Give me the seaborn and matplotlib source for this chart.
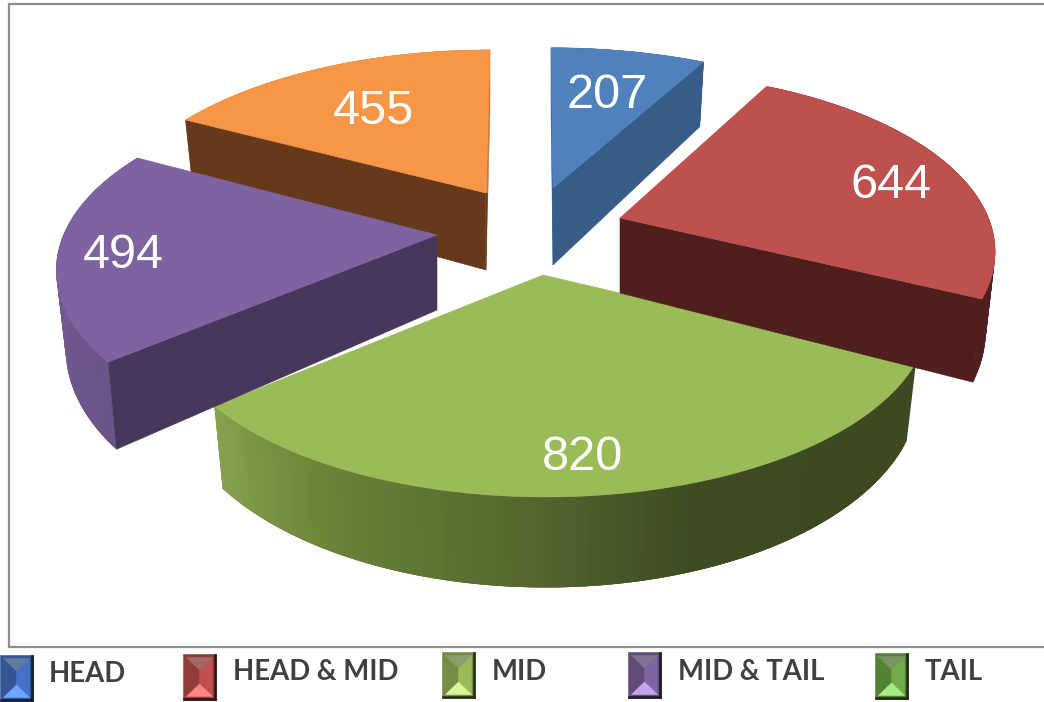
import numpy as np
import matplotlib
matplotlib.use("Agg")
import matplotlib.pyplot as plt
from matplotlib.patches import Polygon
import seaborn as sns

categories = ["HEAD", "HEAD & MID", "MID", "MID & TAIL", "TAIL"]
values = [207, 644, 820, 494, 455]
top_colors = ["#4F81BD", "#BE504D", "#9BBB59", "#7F62A0", "#F69646"]
cut_colors = ["#375C88", "#4E1F1E", "#3D4A20", "#47375A", "#66391A"]
end_colors = ["#375C88", "#4E1F1E", "#3D4A20", "#47375A", "#C77E3B"]
rim_colors = [["#375C88", "#375C88"], ["#4E1F1E", "#4E1F1E"],
              ["#3D4A20", "#3D4A20", "#3F4C22", "#566B30", "#6A8239", "#87A24E"],
              ["#6B5488", "#7A5F9A"], ["#C77E3B", "#C77E3B"]]
apex_x = [553, 620, 543, 437, 486]
apex_y = [188, 218, 275, 235, 193]
scale_x = [1.03, 0.99, 1.012, 1.01, 1.02]
scale_y = [0.98, 0.985, 1.0, 1.0, 1.0]
shift_x = [-2, 0, 3, 2, 4]
shift_y = [0, -5, 0, -4, 0]
depth = [77, 75, 71, 75, 77]
label_x = [607, 891, 582, 123, 373]
label_y = [90, 180, 453, 251, 107]
legend_colors = ["#4472C4", "#C0504D", "#9BBB59", "#8064A2", "#70AD47"]
legend_lights = ["#6FA5FF", "#FF8585", "#D8F59A", "#C4A5EC", "#A5EE85"]
legend_icon_x = [0, 183, 442, 628, 875]
legend_icon_y = [655, 654, 652, 652, 653]
legend_text_x = [49, 233, 492, 678, 925]
legend_text_y = [672, 670, 669, 669, 669]

sns.set_theme(style="white")
plt.rcParams["font.family"] = ["Liberation Sans", "DejaVu Sans"]

A, B, P, SHRINK = 370.0, 174.0, 0.216, 0.975

fig = plt.figure(figsize=(10.44, 7.02), dpi=100)
ax = fig.add_axes([0, 0, 1, 1])
ax.set_xlim(0, 1044)
ax.set_ylim(702, 0)
ax.axis("off")

ax.plot([1044, 9, 9, 1044], [3.5, 3.5, 647, 647], color="#8E8E8E", lw=1.6, solid_joinstyle="miter")


def project(i, theta, radius=1.0, bottom=False):
    x, y = radius * np.sin(theta), radius * np.cos(theta)
    s = 1.0 / (1.0 + P * y)
    u = A * x * s * scale_x[i] + shift_x[i] * radius
    v = -B * y * s * scale_y[i] + shift_y[i] * radius
    if bottom:
        u, v = u * SHRINK, v + depth[i] * s
    return np.column_stack([np.atleast_1d(u), np.atleast_1d(v)])


def shoelace(pts):
    x, y = pts[:, 0], pts[:, 1]
    return np.sum(x * np.roll(y, -1) - np.roll(x, -1) * y)


def poly(pts, color, z, lw=0.4):
    ax.add_patch(Polygon(pts, closed=True, facecolor=color, edgecolor=color if lw else "none", lw=lw, zorder=z))


edges = np.radians(np.concatenate([[0], np.cumsum(values)]) / np.sum(values) * 360.0)
order = [2, 0, 4, 3, 1]
for z, i in enumerate(order):
    a, b = edges[i], edges[i + 1]
    c = np.array([apex_x[i], apex_y[i]], float)
    th = np.linspace(a, b, 120)
    top = project(i, th)
    bot = project(i, th, bottom=True)
    pal = sns.blend_palette(rim_colors[i], len(th))
    base = z * 10
    for k in range(len(th) - 1):
        n = min(k + 3, len(th) - 1)
        poly(np.vstack([top[k], top[n], bot[n], bot[k]]) + c, pal[k], base, lw=0)
    apex_t = project(i, 0.0, 0.0)
    apex_b = project(i, 0.0, 0.0, bottom=True)
    for ang, sign, col in ((a, -1, cut_colors[i]), (b, 1, end_colors[i])):
        outer_t = project(i, ang)
        face = np.vstack([apex_t, outer_t, project(i, ang, bottom=True), apex_b])
        if shoelace(face) * sign > 0:
            poly(face + c, col, base + 1)
            if col != cut_colors[i]:
                # below the apex the narrow end face turns as dark as the cut face
                f = -outer_t[0, 1] / (apex_b[0, 1] - outer_t[0, 1])
                mid = outer_t + (apex_b - outer_t) * f
                poly(np.vstack([apex_t, mid, apex_b]) + c, cut_colors[i], base + 1.5)
    poly(np.vstack([apex_t, top]) + c, top_colors[i], base + 2)

for i, v in enumerate(values):
    ax.text(label_x[i], label_y[i], str(v), color="white", fontsize=35, ha="center",
            va="center_baseline", zorder=100)


def icon(x0, y0, color, light, w=33, h=46):
    l, r, t, b = x0 + 3.5, x0 + w - 3.5, y0 + 3.5, y0 + h - 3.5
    xc = (l + r) / 2
    ih = b - t
    deep = sns.blend_palette([color, "#000000"], 5)
    grey = sns.blend_palette([color, "#808080"], 3)[1]
    z = 50
    poly([[x0, y0], [x0 + w, y0], [x0 + w, y0 + h], [x0, y0 + h]], deep[1], z)
    poly([[x0 + w - 2, y0], [x0 + w, y0], [x0 + w, y0 + h], [x0 + w - 2, y0 + h]], deep[3], z + 1)
    poly([[x0, y0 + h - 2], [x0 + w, y0 + h - 2], [x0 + w, y0 + h], [x0, y0 + h]], deep[3], z + 1)
    poly([[l, t], [xc, t + ih * 0.32], [xc, b - ih * 0.32], [l, b]], deep[1], z + 2)
    poly([[r, t], [xc, t + ih * 0.32], [xc, b - ih * 0.32], [r, b]], color, z + 2)
    poly([[l, t], [r, t], [xc, t + ih * 0.32]], grey, z + 3)
    poly([[l, b], [r, b], [xc, b - ih * 0.32]], light, z + 3)


for i, name in enumerate(categories):
    icon(legend_icon_x[i], legend_icon_y[i], legend_colors[i], legend_lights[i])
    ax.text(legend_text_x[i], legend_text_y[i], name, color="#404040", fontsize=19.8, fontweight="bold",
            family=["Lato", "DejaVu Sans"], ha="left", va="center_baseline", zorder=100)

fig.savefig("out.png", dpi=100, facecolor="white")
